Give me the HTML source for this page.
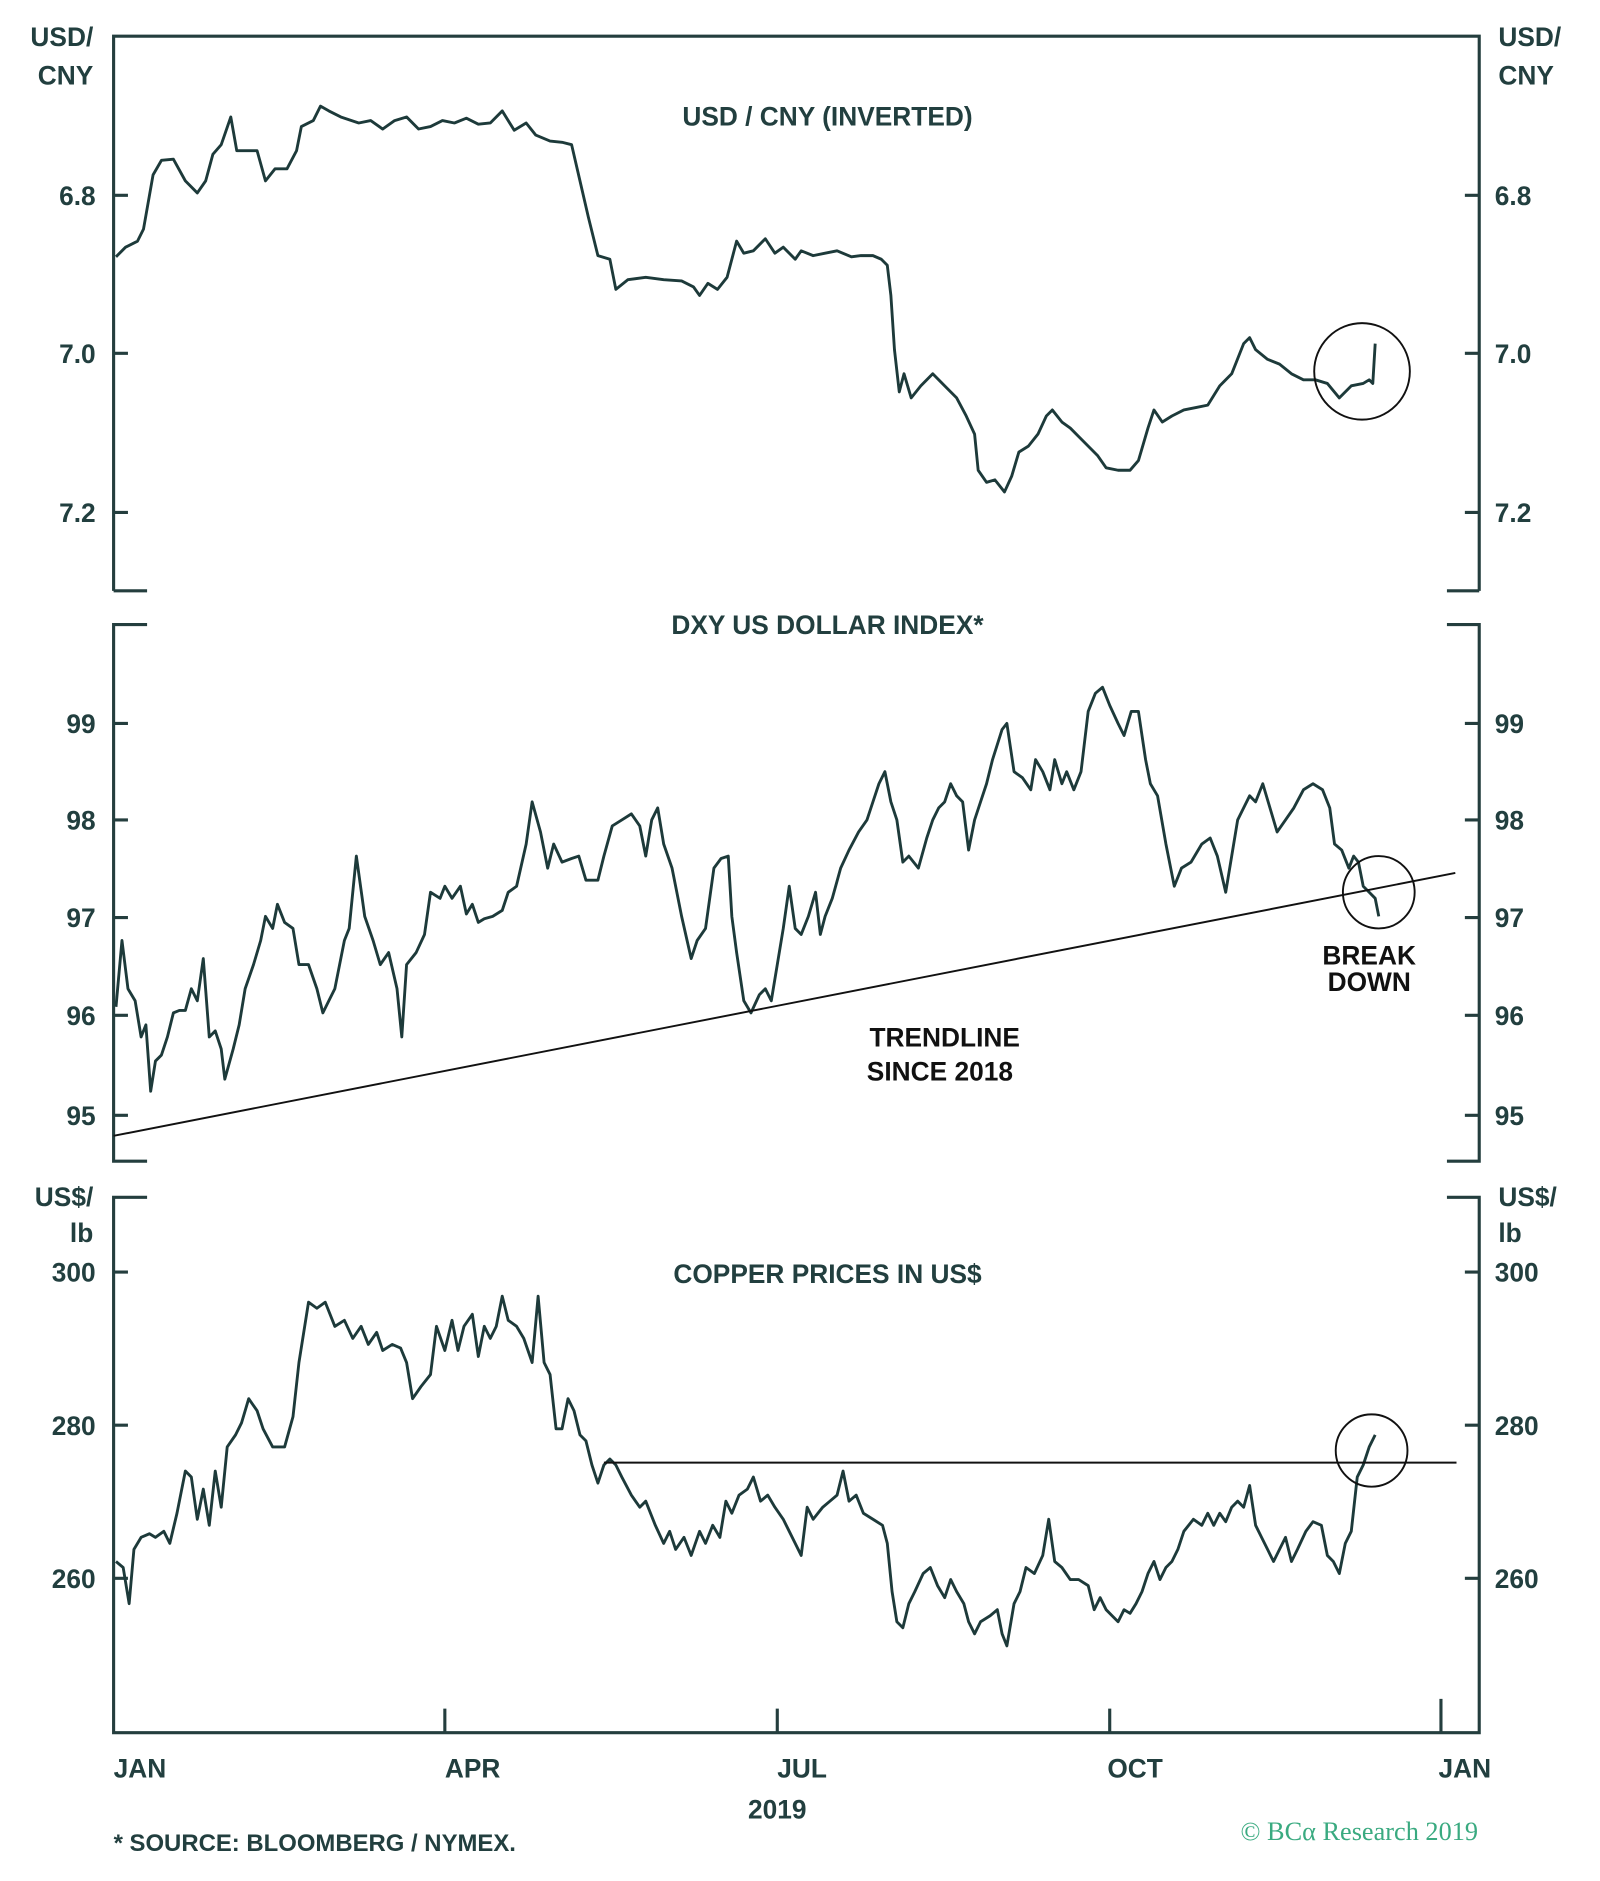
<!DOCTYPE html>
<html><head><meta charset="utf-8"><style>
html,body{margin:0;padding:0;background:#fff;}
svg{display:block;}
text{font-family:"Liberation Sans",sans-serif;font-weight:bold;fill:#223f3f;}
</style></head><body>
<svg width="1600" height="1881" viewBox="0 0 1338 1560" preserveAspectRatio="none" xmlns="http://www.w3.org/2000/svg">
<g stroke="#243e3e" stroke-width="2.6" fill="none">
<!-- panel 1 -->
<polyline points="95,490 95,30 1237,30 1237,490"/>
<line x1="95" y1="490" x2="123" y2="490"/><line x1="1210" y1="490" x2="1237" y2="490"/>
<!-- panel 2 -->
<polyline points="123,518 95,518 95,963 123,963"/>
<polyline points="1210,518 1237,518 1237,963 1210,963"/>
<!-- panel 3 -->
<polyline points="123,993 95,993 95,1437 1237,1437 1237,993 1210,993"/>
<!-- y ticks -->
<path d="M95 162h12M95 293h12M95 425h12M1237 162h-12M1237 293h-12M1237 425h-12
M95 600h12M95 680h12M95 761h12M95 842h12M95 925h12M1237 600h-12M1237 680h-12M1237 761h-12M1237 842h-12M1237 925h-12
M95 1055h12M95 1182h12M95 1309h12M1237 1055h-12M1237 1182h-12M1237 1309h-12
M372 1437v-20M650 1437v-20M928 1437v-20M1205 1437v-28"/>
</g>
<g stroke="#1d3a3a" stroke-width="2.4" fill="none" stroke-linejoin="round">
<polyline points="97,213 105,205 115,200 120,190 128,145 135,133 145,132 155,150 165,160 172,150 178,128 185,120 193,97 198,125 215,125 222,150 230,140 240,140 248,125 252,105 262,100 268,88 275,92 285,97 300,102 310,100 320,107 330,100 340,97 350,107 360,105 370,100 380,102 390,98 400,103 410,102 420,92 430,108 440,102 448,112 460,117 470,118 478,120 485,150 492,180 500,212 510,215 515,240 525,232 540,230 555,232 570,233 580,238 585,245 592,235 600,240 608,230 616,200 622,210 630,208 640,198 648,210 655,205 665,215 670,208 680,212 690,210 700,208 712,213 720,212 730,212 737,215 742,220 745,245 748,290 752,325 756,310 762,330 770,320 780,310 790,320 800,330 808,345 815,360 818,390 825,400 832,398 840,408 846,395 852,375 860,370 868,360 875,345 880,340 888,350 895,355 902,362 910,370 918,378 925,388 935,390 945,390 952,382 960,355 965,340 972,350 980,345 990,340 1000,338 1010,336 1020,320 1030,310 1040,285 1045,280 1050,290 1060,298 1070,302 1080,310 1090,315 1100,315 1110,318 1120,330 1130,320 1140,318 1145,315 1148,318 1150,285"/>
<polyline points="97,835 102,780 107,820 113,830 118,860 122,850 126,905 130,880 135,875 140,860 145,840 150,838 155,838 160,820 165,830 170,795 175,860 180,855 185,870 188,895 195,870 200,850 205,820 212,800 218,780 222,760 228,770 232,750 238,765 245,770 250,800 258,800 265,820 270,840 275,830 280,820 288,780 292,770 298,710 305,760 312,780 318,800 325,790 332,820 336,860 340,800 348,790 355,775 360,740 368,745 372,735 378,745 385,735 390,758 395,750 400,765 405,762 412,760 420,755 425,740 432,735 440,700 445,665 452,690 458,720 463,700 470,715 478,712 484,710 490,730 500,730 505,710 512,685 520,680 528,675 535,685 540,710 545,680 550,670 555,700 562,720 570,760 578,795 583,780 590,770 597,720 603,712 609,710 612,760 616,790 622,830 628,840 635,825 640,820 645,830 650,800 655,770 660,735 665,770 670,775 676,760 682,740 686,775 690,760 696,745 703,720 710,705 718,690 725,680 730,665 735,650 740,640 745,665 750,680 755,715 760,710 768,720 775,695 780,680 785,670 790,665 795,650 800,660 805,665 810,705 815,680 820,665 825,650 830,630 838,605 842,600 848,640 855,645 862,655 866,630 872,640 878,655 882,630 888,650 892,640 898,655 904,640 910,590 916,575 922,570 928,585 935,600 940,610 946,590 952,590 958,630 962,650 968,660 975,700 982,735 988,720 996,715 1005,700 1012,695 1018,710 1025,740 1030,710 1035,680 1040,670 1045,660 1050,665 1056,650 1062,670 1068,690 1075,680 1082,670 1090,655 1098,650 1106,655 1112,670 1116,700 1122,705 1128,720 1132,710 1136,715 1140,735 1145,740 1150,745 1153,760"/>
<polyline points="97,1295 103,1300 108,1330 112,1285 118,1275 125,1272 130,1275 137,1270 142,1280 148,1255 155,1220 160,1225 165,1260 170,1235 175,1265 180,1220 185,1250 190,1200 197,1190 202,1180 208,1160 215,1170 220,1185 228,1200 238,1200 245,1175 250,1130 258,1080 265,1085 272,1080 280,1100 288,1095 295,1110 302,1100 308,1115 315,1105 320,1120 328,1115 335,1118 340,1130 345,1160 352,1150 360,1140 365,1100 372,1120 378,1095 383,1120 388,1100 395,1090 400,1125 405,1100 410,1110 415,1100 420,1075 425,1095 432,1100 438,1110 445,1130 450,1075 455,1130 460,1140 465,1185 470,1185 475,1160 480,1170 485,1190 490,1195 495,1215 500,1230 505,1215 510,1210 515,1215 520,1225 528,1240 535,1250 540,1245 548,1265 555,1280 560,1270 565,1285 572,1275 578,1290 585,1270 590,1280 596,1265 602,1275 607,1245 612,1255 618,1240 625,1235 630,1225 636,1245 642,1240 648,1250 655,1260 660,1270 665,1280 670,1290 675,1250 680,1260 688,1250 694,1245 700,1240 705,1220 710,1245 716,1240 722,1255 730,1260 738,1265 742,1280 746,1320 750,1345 755,1350 760,1330 765,1320 772,1305 778,1300 784,1315 790,1325 795,1310 800,1320 806,1330 810,1345 815,1355 820,1345 828,1340 834,1335 838,1355 842,1365 848,1330 853,1320 858,1300 865,1305 872,1290 877,1260 882,1295 888,1300 895,1310 902,1310 910,1315 915,1335 920,1325 925,1335 930,1340 935,1345 940,1335 945,1338 950,1330 955,1320 960,1305 965,1295 970,1310 975,1300 980,1295 985,1285 990,1270 998,1260 1005,1265 1010,1255 1015,1265 1020,1255 1025,1262 1030,1250 1035,1245 1040,1250 1045,1232 1050,1265 1055,1275 1060,1285 1065,1295 1070,1285 1075,1275 1080,1295 1085,1285 1092,1270 1098,1262 1105,1265 1110,1290 1115,1295 1120,1305 1125,1280 1130,1270 1135,1225 1140,1215 1145,1200 1150,1190"/>
</g>
<g stroke="#111" stroke-width="1.6" fill="none">
<line x1="95" y1="942" x2="1217" y2="724"/>
<line x1="505" y1="1213" x2="1218" y2="1213"/>
<circle cx="1139" cy="308" r="40"/>
<circle cx="1153" cy="740" r="30"/>
<circle cx="1147" cy="1203" r="30"/>
</g>
<g font-size="22">
<text x="78" y="38" text-anchor="end">USD/</text><text x="78" y="70" text-anchor="end">CNY</text>
<text x="1253" y="38">USD/</text><text x="1253" y="70">CNY</text>
<text x="80" y="170" text-anchor="end">6.8</text><text x="80" y="301" text-anchor="end">7.0</text><text x="80" y="433" text-anchor="end">7.2</text>
<text x="1250" y="170">6.8</text><text x="1250" y="301">7.0</text><text x="1250" y="433">7.2</text>
<text x="692" y="104" text-anchor="middle">USD / CNY (INVERTED)</text>
<text x="692" y="526" text-anchor="middle">DXY US DOLLAR INDEX*</text>
<text x="80" y="608" text-anchor="end">99</text><text x="80" y="688" text-anchor="end">98</text><text x="80" y="769" text-anchor="end">97</text><text x="80" y="850" text-anchor="end">96</text><text x="80" y="933" text-anchor="end">95</text>
<text x="1250" y="608">99</text><text x="1250" y="688">98</text><text x="1250" y="769">97</text><text x="1250" y="850">96</text><text x="1250" y="933">95</text>
<text x="1145" y="800" text-anchor="middle" fill="#111" style="fill:#111">BREAK</text>
<text x="1145" y="822" text-anchor="middle" style="fill:#111">DOWN</text>
<text x="790" y="868" text-anchor="middle" style="fill:#111">TRENDLINE</text>
<text x="786" y="896" text-anchor="middle" style="fill:#111">SINCE 2018</text>
<text x="78" y="1000" text-anchor="end">US$/</text><text x="78" y="1030" text-anchor="end">lb</text>
<text x="1253" y="1000">US$/</text><text x="1253" y="1030">lb</text>
<text x="80" y="1063" text-anchor="end">300</text><text x="80" y="1190" text-anchor="end">280</text><text x="80" y="1317" text-anchor="end">260</text>
<text x="1250" y="1063">300</text><text x="1250" y="1190">280</text><text x="1250" y="1317">260</text>
<text x="692" y="1064" text-anchor="middle">COPPER PRICES IN US$</text>
<text x="95" y="1474">JAN</text><text x="372" y="1474">APR</text><text x="650" y="1474">JUL</text><text x="926" y="1474">OCT</text><text x="1203" y="1474">JAN</text>
<text x="650" y="1508" text-anchor="middle">2019</text>
<text x="95" y="1535" font-size="20">* SOURCE: BLOOMBERG / NYMEX.</text>
<text x="1236" y="1526" text-anchor="end" font-size="22" style="fill:#3aaa80;font-family:'Liberation Serif',serif;font-weight:normal">© BCα Research 2019</text>
</g>
</svg>
</body></html>
